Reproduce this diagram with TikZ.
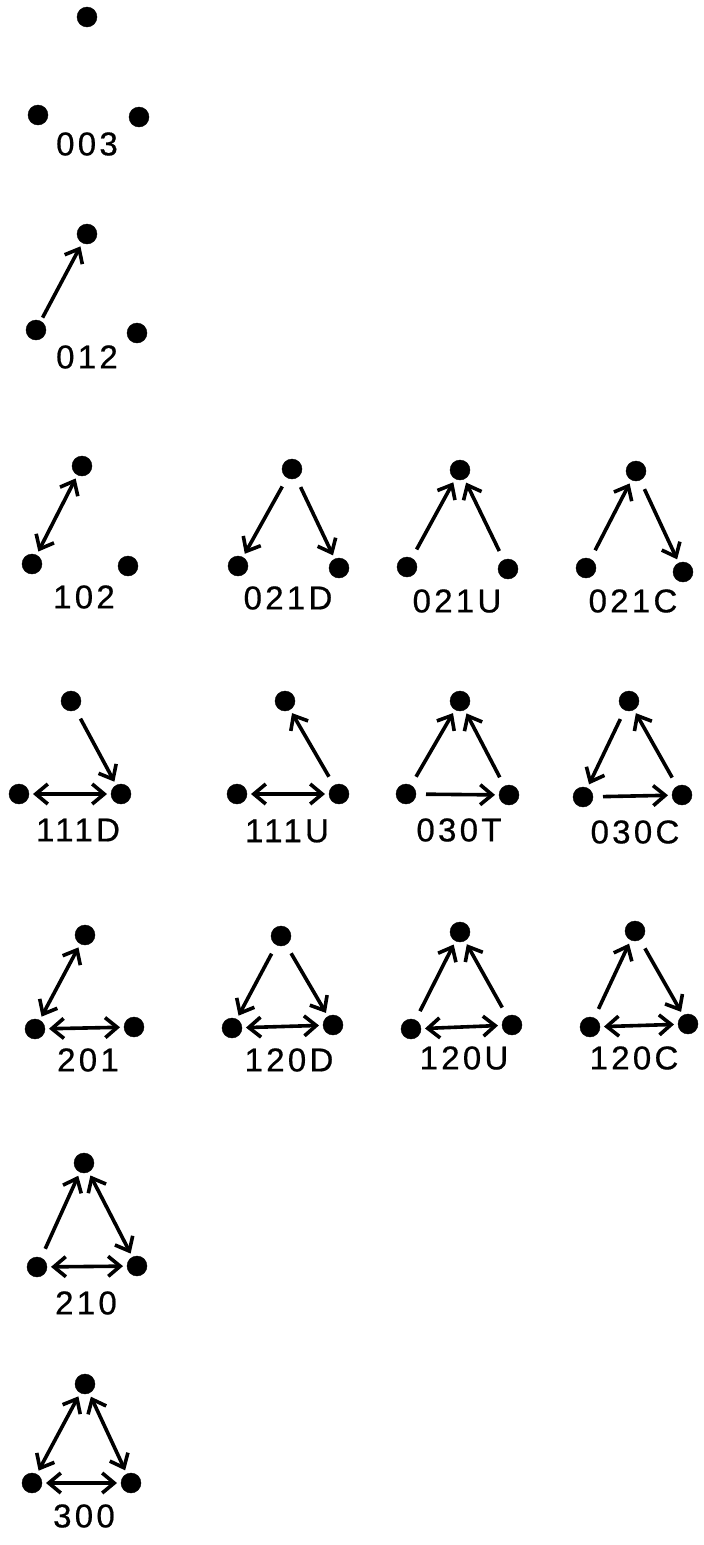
\documentclass[tikz,border=0pt]{standalone}
\usepackage{fontspec}
\setmainfont{Liberation Sans}[LetterSpace=10, FakeBold=0.6]
\usetikzlibrary{arrows.meta}

\begin{document}
\begin{tikzpicture}[x=1pt, y=-1pt,
	dot/.style={circle, inner sep=0pt, minimum size=20pt, fill=black, draw=black, outer sep=4pt},
	tie/.style={line width=3.6pt, shorten <=6pt},
	code/.style={font=\fontsize{33}{33}\selectfont, inner sep=0pt},
	>={Straight Barb[length=12pt, width=20pt]}]
			\useasboundingbox (0,0) rectangle (704,1545);
			% 003
			\node[dot](t003) at (87,17){};
			\node[dot](l003) at (38,115){};
			\node[dot](r003) at (139,117){};
			\node[code](n003) at (87,144){003};
			% 012
			\node[dot](t012) at (87,234){};
			\node[dot](l012) at (36,330){};
			\node[dot](r012) at (137,333){};
			\node[code](n012) at (87,357){012};
			\draw[tie, ->, shorten <=0pt] (l012) -- (t012);
			% 102
			\node[dot](t102) at (82,466){};
			\node[dot](l102) at (32,564){};
			\node[dot](r102) at (128,566){};
			\node[code](n102) at (84,597){102};
			\draw[tie, <->, shorten <=0pt] (l102) -- (t102);
			% 021D
			\node[dot](t021D) at (292,469){};
			\node[dot](l021D) at (238,566){};
			\node[dot](r021D) at (339,568){};
			\node[code](n021D) at (288,598){021D};
			\draw[tie, ->] (t021D) -- (l021D);
			\draw[tie, ->] (t021D) -- (r021D);
			% 021U
			\node[dot](t021U) at (460,470){};
			\node[dot](l021U) at (407,567){};
			\node[dot](r021U) at (508,569){};
			\node[code](n021U) at (457,601){021U};
			\draw[tie, ->] (l021U) -- (t021U);
			\draw[tie, ->] (r021U) -- (t021U);
			% 021C
			\node[dot](t021C) at (636,471){};
			\node[dot](l021C) at (586,568){};
			\node[dot](r021C) at (683,572){};
			\node[code](n021C) at (633,601){021C};
			\draw[tie, ->] (l021C) -- (t021C);
			\draw[tie, ->] (t021C) -- (r021C);
			% 111D
			\node[dot](t111D) at (71,701){};
			\node[dot](l111D) at (19,794){};
			\node[dot](r111D) at (121,794){};
			\node[code](n111D) at (78,830){111D};
			\draw[tie, ->] (t111D) -- (r111D);
			\draw[tie, <->, shorten <=0pt] (l111D) -- (r111D);
			% 111U
			\node[dot](t111U) at (285,701){};
			\node[dot](l111U) at (237,794){};
			\node[dot](r111U) at (339,794){};
			\node[code](n111U) at (287,831){111U};
			\draw[tie, ->] (r111U) -- (t111U);
			\draw[tie, <->, shorten <=0pt] (l111U) -- (r111U);
			% 030T
			\node[dot](t030T) at (460,701){};
			\node[dot](l030T) at (406,794){};
			\node[dot](r030T) at (509,795){};
			\node[code](n030T) at (459,830){030T};
			\draw[tie, ->] (l030T) -- (t030T);
			\draw[tie, ->] (r030T) -- (t030T);
			\draw[tie, ->] (l030T) -- (r030T);
			% 030C
			\node[dot](t030C) at (629,701){};
			\node[dot](l030C) at (583,797){};
			\node[dot](r030C) at (682,795){};
			\node[code](n030C) at (635,832){030C};
			\draw[tie, ->] (t030C) -- (l030C);
			\draw[tie, ->] (r030C) -- (t030C);
			\draw[tie, ->] (l030C) -- (r030C);
			% 201
			\node[dot](t201) at (85,935){};
			\node[dot](l201) at (35,1029){};
			\node[dot](r201) at (134,1027){};
			\node[code](n201) at (88,1060){201};
			\draw[tie, <->, shorten <=0pt] (l201) -- (t201);
			\draw[tie, <->, shorten <=0pt] (l201) -- (r201);
			% 120D
			\node[dot](t120D) at (281,936){};
			\node[dot](l120D) at (232,1028){};
			\node[dot](r120D) at (333,1025){};
			\node[code](n120D) at (289,1060){120D};
			\draw[tie, ->] (t120D) -- (l120D);
			\draw[tie, ->] (t120D) -- (r120D);
			\draw[tie, <->, shorten <=0pt] (l120D) -- (r120D);
			% 120U
			\node[dot](t120U) at (460,932){};
			\node[dot](l120U) at (411,1029){};
			\node[dot](r120U) at (512,1025){};
			\node[code](n120U) at (464,1058){120U};
			\draw[tie, ->] (l120U) -- (t120U);
			\draw[tie, ->] (r120U) -- (t120U);
			\draw[tie, <->, shorten <=0pt] (l120U) -- (r120U);
			% 120C
			\node[dot](t120C) at (635,931){};
			\node[dot](l120C) at (590,1027){};
			\node[dot](r120C) at (688,1024){};
			\node[code](n120C) at (634,1058){120C};
			\draw[tie, ->] (l120C) -- (t120C);
			\draw[tie, ->] (t120C) -- (r120C);
			\draw[tie, <->, shorten <=0pt] (l120C) -- (r120C);
			% 210
			\node[dot](t210) at (84,1163){};
			\node[dot](l210) at (37,1267){};
			\node[dot](r210) at (137,1266){};
			\node[code](n210) at (86,1303){210};
			\draw[tie, ->] (l210) -- (t210);
			\draw[tie, <->, shorten <=0pt] (t210) -- (r210);
			\draw[tie, <->, shorten <=0pt] (l210) -- (r210);
			% 300
			\node[dot](t300) at (85,1384){};
			\node[dot](l300) at (32,1483){};
			\node[dot](r300) at (131,1483){};
			\node[code](n300) at (84,1516){300};
			\draw[tie, <->, shorten <=0pt] (l300) -- (t300);
			\draw[tie, <->, shorten <=0pt] (t300) -- (r300);
			\draw[tie, <->, shorten <=0pt] (l300) -- (r300);
\end{tikzpicture}
\end{document}
